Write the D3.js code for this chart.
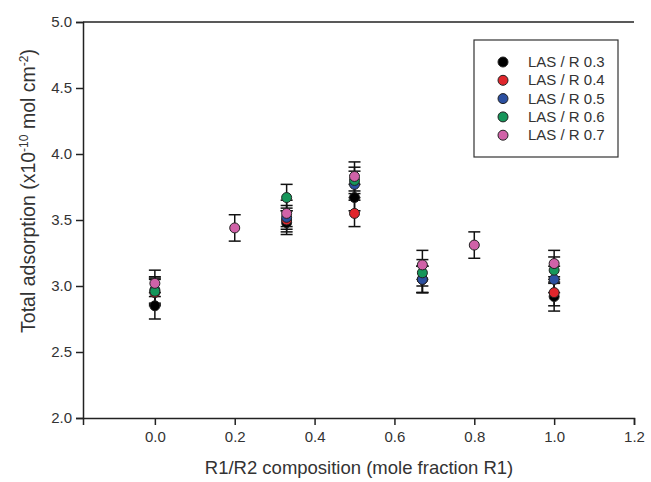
<!DOCTYPE html>
<html>
<head>
<meta charset="utf-8">
<script src="https://cdn.jsdelivr.net/npm/d3@7.9.0/dist/d3.min.js"></script>
<style>
  body { margin: 0; background: #fff; }
  text { font-family: "Liberation Sans", Arial, sans-serif; fill: #333; }
</style>
</head>
<body>
<svg width="651" height="482"></svg>
<script>
// series labels and colours
const seriesNames = ['LAS / R 0.3', 'LAS / R 0.4', 'LAS / R 0.5', 'LAS / R 0.6', 'LAS / R 0.7'];
const seriesColors = ['#000000', '#e0262c', '#2b4fa0', '#16965a', '#d062a8'];

// x positions (mole fraction R1)
const xShort = [0, 0.33, 0.5, 0.67, 1.0];
const xLong = [0, 0.2, 0.33, 0.5, 0.67, 0.8, 1.0];

// adsorption values and error bars
const las03 = [2.85, 3.48, 3.67, 3.05, 2.92];
const las03Err = [0.10, 0.09, 0.10, 0.10, 0.11];
const las04 = [2.95, 3.50, 3.55, 3.05, 2.95];
const las04Err = [0.10, 0.09, 0.10, 0.10, 0.10];
const las05 = [2.97, 3.52, 3.77, 3.05, 3.05];
const las05Err = [0.10, 0.09, 0.10, 0.10, 0.10];
const las06 = [2.96, 3.67, 3.80, 3.10, 3.12];
const las06Err = [0.10, 0.10, 0.10, 0.10, 0.10];
const las07 = [3.02, 3.44, 3.55, 3.83, 3.16, 3.31, 3.17];
const las07Err = [0.10, 0.10, 0.10, 0.11, 0.11, 0.10, 0.10];

const xTicks = [0.0, 0.2, 0.4, 0.6, 0.8, 1.0, 1.2];
const yTicks = [2.0, 2.5, 3.0, 3.5, 4.0, 4.5, 5.0];

const series = [
  { xs: xShort, ys: las03, es: las03Err },
  { xs: xShort, ys: las04, es: las04Err },
  { xs: xShort, ys: las05, es: las05Err },
  { xs: xShort, ys: las06, es: las06Err },
  { xs: xLong, ys: las07, es: las07Err },
];

const svg = d3.select('svg');

let x = d3.scaleLinear().domain([-0.18, 1.2]).range([83, 634]);
let y = d3.scaleLinear().domain([2, 5]).range([418, 22]);

// axes
let xAxis = svg.append('g')
  .attr('transform', `translate(0,${y(2)})`)
  .call(d3.axisBottom(x).tickValues(xTicks).tickFormat(d3.format('.1f')).tickSizeOuter(0).tickSize(7).tickPadding(6));
let yAxis = svg.append('g')
  .attr('transform', `translate(${x(-0.18)},0)`)
  .call(d3.axisLeft(y).tickValues(yTicks).tickFormat(d3.format('.1f')).tickSizeOuter(0).tickSize(7).tickPadding(4));

[xAxis, yAxis].forEach(a => {
  a.selectAll('path, line').attr('stroke', '#222').attr('stroke-width', 1.5);
  a.selectAll('text').attr('font-size', 15).attr('fill', '#333')
    .style('font-family', '"Liberation Sans", Arial, sans-serif');
});
// top frame line
svg.append('line')
  .attr('x1', x(-0.18)).attr('x2', x(1.2))
  .attr('y1', y(5)).attr('y2', y(5))
  .attr('stroke', '#222').attr('stroke-width', 1.5);

// titles
svg.append('text')
  .attr('x', 359).attr('y', 474)
  .attr('text-anchor', 'middle')
  .attr('font-size', 18.5)
  .text('R1/R2 composition (mole fraction R1)');

let yTitle = svg.append('text')
  .attr('transform', 'translate(35,191) rotate(-90)')
  .attr('text-anchor', 'middle')
  .attr('font-size', 19.5);
yTitle.append('tspan').text('Total adsorption (x10');
yTitle.append('tspan').attr('dy', -7).attr('font-size', 12).text('-10');
yTitle.append('tspan').attr('dy', 7).text(' mol cm');
yTitle.append('tspan').attr('dy', -7).attr('font-size', 12).text('-2');
yTitle.append('tspan').attr('dy', 7).text(')');

// error bars
const cap = 6;
series.forEach(s => {
  let g = svg.append('g').attr('stroke', '#111').attr('stroke-width', 1.5);
  s.xs.forEach((xv, i) => {
    let cx = x(xv), lo = y(s.ys[i] - s.es[i]), hi = y(s.ys[i] + s.es[i]);
    g.append('line').attr('x1', cx).attr('x2', cx).attr('y1', lo).attr('y2', hi);
    g.append('line').attr('x1', cx - cap).attr('x2', cx + cap).attr('y1', lo).attr('y2', lo);
    g.append('line').attr('x1', cx - cap).attr('x2', cx + cap).attr('y1', hi).attr('y2', hi);
  });
});

// markers
series.forEach((s, k) => {
  svg.append('g').selectAll('circle')
    .data(s.xs.map((xv, i) => [xv, s.ys[i]]))
    .join('circle')
    .attr('cx', d => x(d[0]))
    .attr('cy', d => y(d[1]))
    .attr('r', 5)
    .attr('fill', seriesColors[k])
    .attr('stroke', '#222')
    .attr('stroke-width', 1);
});

// legend
let legend = svg.append('g');
legend.append('rect')
  .attr('x', 474).attr('y', 40).attr('width', 144).attr('height', 117)
  .attr('fill', '#fff').attr('stroke', '#333').attr('stroke-width', 1.2);
seriesNames.forEach((name, k) => {
  let ly = 62 + k * 18.3;
  legend.append('circle')
    .attr('cx', 503).attr('cy', ly).attr('r', 5)
    .attr('fill', seriesColors[k]).attr('stroke', '#222').attr('stroke-width', 1);
  legend.append('text')
    .attr('x', 528).attr('y', ly + 5)
    .attr('font-size', 15)
    .text(name);
});
</script>
</body>
</html>
